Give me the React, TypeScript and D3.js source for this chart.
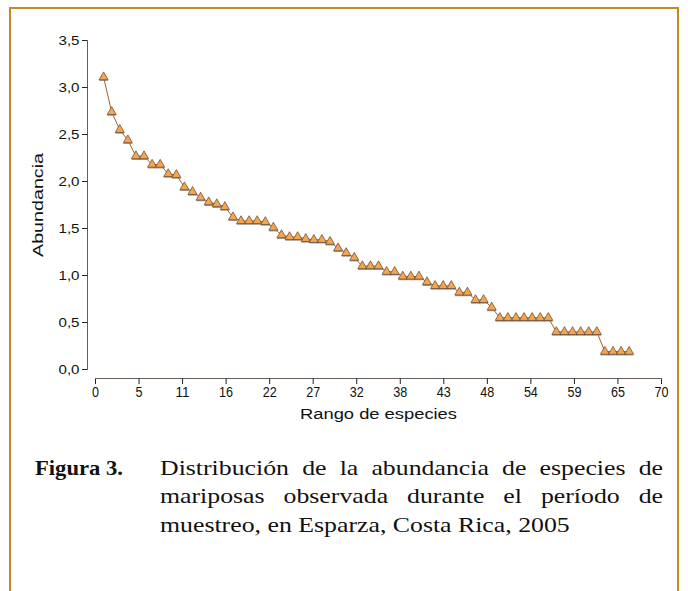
import React, { useEffect, useRef } from "react";
import * as d3 from "d3";

const abundance: number[] = [
  3.11, 2.74, 2.55, 2.44, 2.27, 2.27, 2.18, 2.18, 2.08, 2.07,
  1.94, 1.89, 1.83, 1.78, 1.76, 1.73, 1.62, 1.58, 1.58, 1.58,
  1.57, 1.51, 1.43, 1.41, 1.41, 1.39, 1.38, 1.38, 1.36, 1.29,
  1.24, 1.19, 1.10, 1.10, 1.10, 1.04, 1.04, 0.99, 0.99, 0.99,
  0.93, 0.89, 0.89, 0.89, 0.82, 0.82, 0.74, 0.74, 0.66, 0.55,
  0.55, 0.55, 0.55, 0.55, 0.55, 0.55, 0.40, 0.40, 0.40, 0.40,
  0.40, 0.40, 0.19, 0.19, 0.19, 0.19,
];
const ranks: number[] = abundance.map((_, i) => i + 1);

const xTickLabels = ["0", "5", "11", "16", "22", "27", "32", "38", "43", "48", "54", "59", "65", "70"];
const yTickValues = [0, 0.5, 1, 1.5, 2, 2.5, 3, 3.5];
const yTickLabels = ["0,0", "0,5", "1,0", "1,5", "2,0", "2,5", "3,0", "3,5"];

const captionLabel = "Figura 3.";
const captionLines = [
  "Distribución de la abundancia de especies de",
  "mariposas observada durante el período de",
  "muestreo, en Esparza, Costa Rica, 2005",
];

export default function App() {
  const capRef = useRef<SVGGElement>(null);
  const W = 688, H = 591;
  const x = d3.scaleLinear().domain([0, 70]).range([95.5, 661.5]);
  const y = d3.scaleLinear().domain([0, 3.5]).range([369.5, 40.5]);
  const xTickValues = xTickLabels.map((_, i) => (i * 70) / 13);
  const line = d3.line<number>().x((_, i) => x(ranks[i])).y((d) => y(d));
  const tri = d3.symbol().type(d3.symbolTriangle).size(36)();
  const axisColor = "#6a5d57";
  const sans = "'Liberation Sans', Arial, sans-serif";
  const serif = "'Liberation Serif', 'Times New Roman', serif";
  const capX = 160, capRight = 663, lastLineWidth = 410;

  useEffect(() => {
    const g = capRef.current;
    if (!g) return;
    const nodes = Array.from(g.querySelectorAll<SVGTextElement>("text.cap"));
    nodes.forEach((n) => (n.style.wordSpacing = "0px"));
    const last = nodes[nodes.length - 1];
    const sx = lastLineWidth / last.getComputedTextLength();
    g.setAttribute("transform", `translate(${capX},0) scale(${sx},1)`);
    nodes.slice(0, -1).forEach((n) => {
      const len = n.getComputedTextLength();
      const words = (n.textContent || "").split(" ").length;
      const extra = ((capRight - capX) / sx - len) / (words - 1);
      n.style.wordSpacing = `${extra}px`;
    });
  }, []);

  return (
    <svg width={W} height={H} style={{ position: "absolute", left: 0, top: 0, background: "#fff" }}>
      <rect x={0} y={0} width={W} height={H} fill="#fff" />
      {/* border */}
      <path d={`M10,${H + 5} V8 H678 V${H + 5}`} fill="none" stroke="#c08a26" strokeWidth={2} />

      {/* y axis */}
      <line x1={87.5} x2={87.5} y1={y(3.5)} y2={y(0)} stroke={axisColor} strokeWidth={1} />
      {yTickValues.map((v, i) => (
        <g key={v}>
          <line x1={82} x2={87.5} y1={y(v)} y2={y(v)} stroke="#222" strokeWidth={1} />
          <text
            x={79.5}
            y={y(v)}
            dy="0.35em"
            textAnchor="end"
            fontFamily={sans}
            fontSize={13}
            textLength={21}
            lengthAdjust="spacingAndGlyphs"
            fill="#111"
          >
            {yTickLabels[i]}
          </text>
        </g>
      ))}
      <text
        transform={`translate(43,${(y(0) + y(3.5)) / 2}) rotate(-90)`}
        textAnchor="middle"
        fontFamily={sans}
        fontSize={15}
        textLength={104}
        lengthAdjust="spacingAndGlyphs"
        fill="#111"
      >
        Abundancia
      </text>

      {/* x axis */}
      <line x1={x(0)} x2={x(70)} y1={378.5} y2={378.5} stroke={axisColor} strokeWidth={1} />
      {xTickValues.map((v, i) => (
        <g key={i}>
          <line x1={x(v)} x2={x(v)} y1={378.5} y2={384} stroke="#222" strokeWidth={1} />
          <text
            x={x(v)}
            y={396.5}
            textAnchor="middle"
            fontFamily={sans}
            fontSize={15.5}
            textLength={xTickLabels[i].length * 7}
            lengthAdjust="spacingAndGlyphs"
            fill="#111"
          >
            {xTickLabels[i]}
          </text>
        </g>
      ))}
      <text
        x={(x(0) + x(70)) / 2}
        y={419}
        textAnchor="middle"
        fontFamily={sans}
        fontSize={15.5}
        textLength={157}
        lengthAdjust="spacingAndGlyphs"
        fill="#111"
      >
        Rango de especies
      </text>

      {/* series */}
      <path d={line(abundance) || ""} fill="none" stroke="#a2622c" strokeWidth={1} />
      {abundance.map((v, i) => (
        <path
          key={"s" + i}
          d={tri || ""}
          transform={`translate(${x(ranks[i])},${y(v) + 1.2})`}
          fill="#8a8a8a"
          opacity={0.8}
        />
      ))}
      {abundance.map((v, i) => (
        <path
          key={"m" + i}
          d={tri || ""}
          transform={`translate(${x(ranks[i])},${y(v)})`}
          fill="#f7a54a"
          stroke="#5a4030"
          strokeWidth={0.7}
        />
      ))}

      {/* caption */}
      <text x={35} y={475} fontFamily={serif} fontWeight="bold" fontSize={21} textLength={88} lengthAdjust="spacingAndGlyphs" fill="#111">
        {captionLabel}
      </text>
      <g ref={capRef} transform={`translate(${capX},0)`}>
        {captionLines.map((t, i) => (
          <text key={i} className="cap" x={0} y={475 + i * 28.5} fontFamily={serif} fontSize={21} fill="#111">
            {t}
          </text>
        ))}
      </g>
    </svg>
  );
}
